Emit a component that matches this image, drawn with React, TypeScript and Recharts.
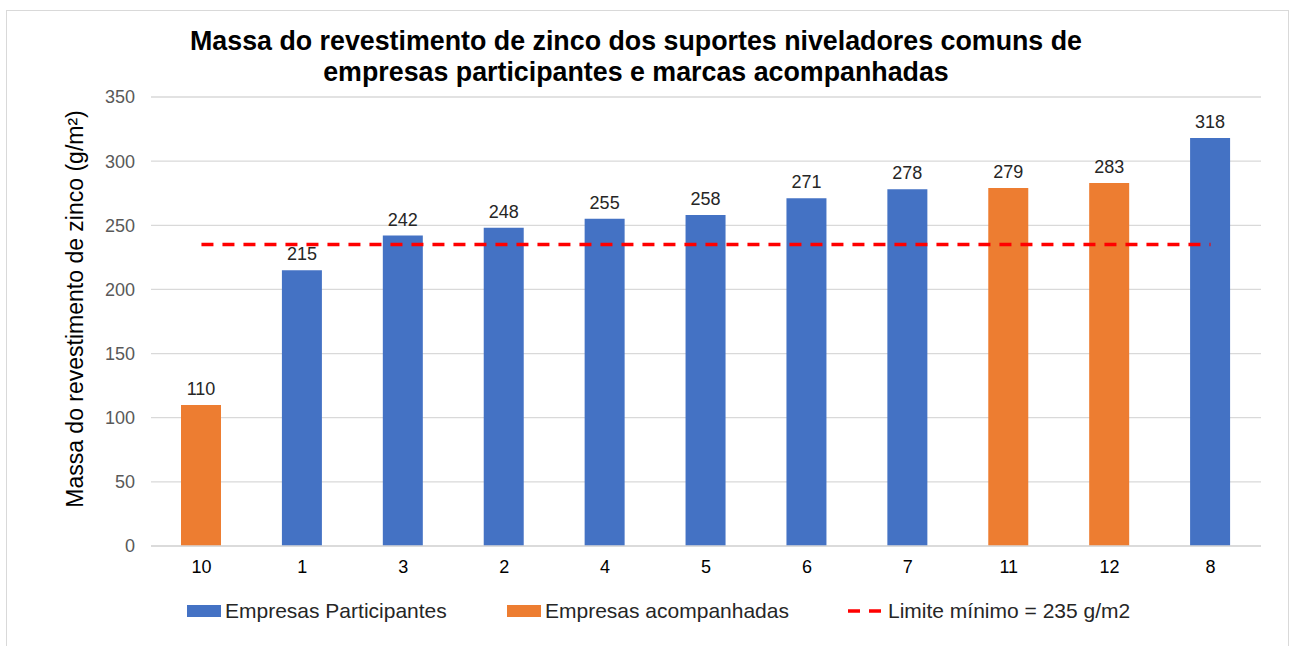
import { Bar, Cell, Line, XAxis, YAxis, CartesianGrid, LabelList, ComposedChart } from "recharts";

const categories = ["10", "1", "3", "2", "4", "5", "6", "7", "11", "12", "8"];
const massValues = [110, 215, 242, 248, 255, 258, 271, 278, 279, 283, 318];
const groups = ["acomp", "part", "part", "part", "part", "part", "part", "part", "acomp", "acomp", "part"];
const yTicks = [0, 50, 100, 150, 200, 250, 300, 350];
const limitValue = 235;

const BLUE = "#4472C4";
const ORANGE = "#ED7D31";
const RED = "#FF0000";
const FONT = "'Liberation Sans', Arial, sans-serif";

const data = categories.map((c, i) => ({
  name: c,
  massa: massValues[i],
  grupo: groups[i],
  limite: limitValue,
}));

export default function App() {
  return (
    <div style={{ position: "absolute", left: 0, top: 0, width: 1293, height: 646, background: "#fff", fontFamily: FONT, overflow: "hidden" }}>
      <div style={{ position: "absolute", left: 6, top: 10, width: 1281, height: 660, border: "1px solid #d9d9d9" }} />
      <div
        style={{
          position: "absolute",
          left: 0,
          width: 1272,
          top: 26,
          textAlign: "center",
          fontWeight: "bold",
          fontSize: 26.8,
          lineHeight: "31px",
          color: "#000",
        }}
      >
        Massa do revestimento de zinco dos suportes niveladores comuns de
        <br />
        empresas participantes e marcas acompanhadas
      </div>
      <div
        style={{
          position: "absolute",
          left: 75,
          top: 309,
          transform: "translate(-50%, -50%) rotate(-90deg)",
          whiteSpace: "nowrap",
          fontSize: 23,
          color: "#000",
        }}
      >
        Massa do revestimento de zinco (g/m²)
      </div>
      <div style={{ position: "absolute", left: 0, top: 0 }}>
        <ComposedChart width={1293} height={646} data={data} margin={{ top: 97, right: 32, bottom: 70, left: 101 }} barCategoryGap={0}>
          <CartesianGrid vertical={false} stroke="#d9d9d9" strokeWidth={1.3} />
          <XAxis
            dataKey="name"
            height={30}
            tickLine={false}
            axisLine={{ stroke: "#d9d9d9", strokeWidth: 1.3 }}
            tick={{ fill: "#000", fontSize: 18, fontFamily: FONT }}
            tickMargin={8}
          />
          <YAxis
            width={50}
            domain={[0, 350]}
            ticks={yTicks}
            tickLine={false}
            axisLine={false}
            tick={{ fill: "#595959", fontSize: 18, fontFamily: FONT }}
            tickMargin={10}
          />
          <Bar dataKey="massa" barSize={40} isAnimationActive={false}>
            {data.map((d, i) => (
              <Cell key={i} fill={d.grupo === "part" ? BLUE : ORANGE} />
            ))}
            <LabelList dataKey="massa" position="top" offset={10} style={{ fill: "#262626", fontSize: 18, fontFamily: FONT }} />
          </Bar>
          <Line
            dataKey="limite"
            stroke={RED}
            strokeWidth={3.5}
            strokeDasharray="12 9"
            dot={false}
            activeDot={false}
            isAnimationActive={false}
          />
        </ComposedChart>
      </div>
      <div style={{ position: "absolute", top: 598, left: 0, fontSize: 21, color: "#262626", lineHeight: "26px" }}>
        <div style={{ position: "absolute", left: 187, top: 7, width: 34, height: 12, background: BLUE }} />
        <div style={{ position: "absolute", left: 225, top: 0, whiteSpace: "nowrap" }}>Empresas Participantes</div>
        <div style={{ position: "absolute", left: 507, top: 7, width: 34, height: 12, background: ORANGE }} />
        <div style={{ position: "absolute", left: 545, top: 0, whiteSpace: "nowrap" }}>Empresas acompanhadas</div>
        <svg style={{ position: "absolute", left: 848, top: 8 }} width={36} height={10}>
          <line x1={0} y1={5} x2={36} y2={5} stroke={RED} strokeWidth={3.5} strokeDasharray="12 9" />
        </svg>
        <div style={{ position: "absolute", left: 888, top: 0, whiteSpace: "nowrap" }}>Limite mínimo = 235 g/m2</div>
      </div>
    </div>
  );
}
